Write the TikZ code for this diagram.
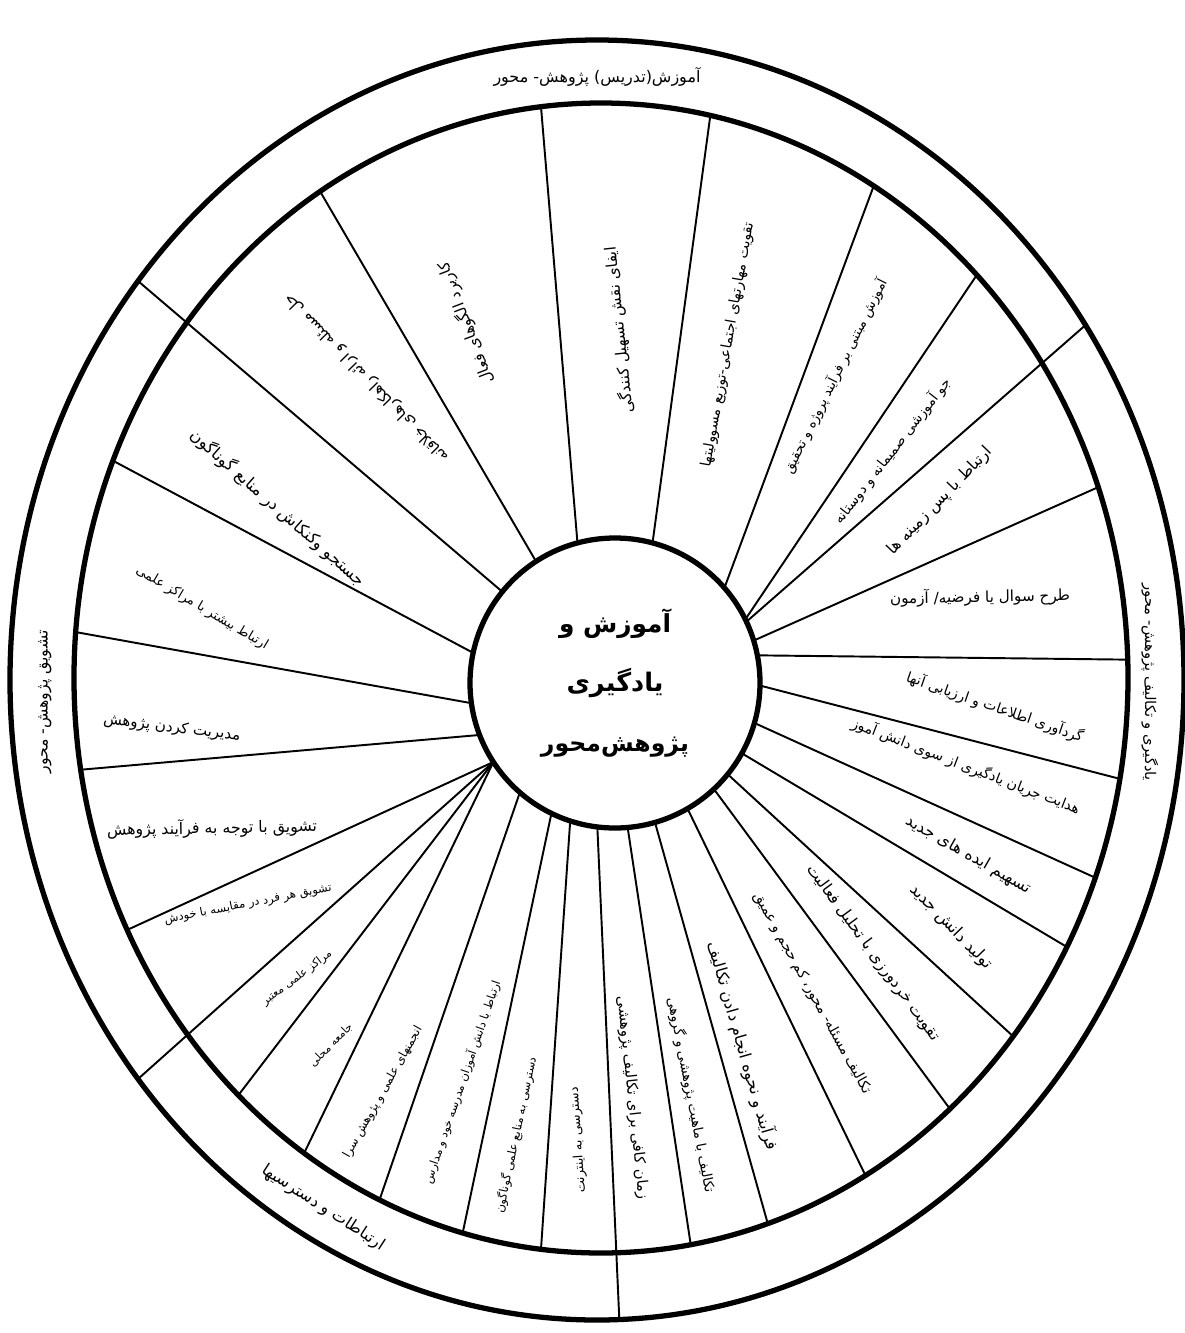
\documentclass[tikz,border=0pt]{standalone}
\usepackage{fontspec}
\usepackage{graphicx}
\usetikzlibrary{shapes.geometric}
\newfontfamily\arabicfont[Script=Arabic]{DejaVu Sans}
\TeXXeTstate=1
\newlength\pxu
\setlength\pxu{0.02cm}
\newcommand\fa[2]{\resizebox{#1\pxu}{!}{\arabicfont #2}}
\newcommand\fab[2]{\resizebox{#1\pxu}{!}{\arabicfont\bfseries #2}}

\begin{document}
\begin{tikzpicture}[x=0.02cm, y=-0.02cm,
        rim/.style={draw, ellipse, line width=3pt, inner sep=0pt, outer sep=0pt},
        spoke/.style={line width=1.1pt},
        lbl/.style={inner sep=0pt}]
        \useasboundingbox (0,0) rectangle (1185,1333);

        % Outer and inner rim
        \node[rim, minimum width=1174\pxu, minimum height=1280\pxu] (outer) at (597,680) {};
        \node[rim, minimum width=1054\pxu, minimum height=1150\pxu] (inner) at (601,678) {};

        % Centre circle
        \node[draw, circle, line width=3pt, minimum size=290\pxu, inner sep=0pt, outer sep=0pt,
              align=center, font=\fontsize{12}{34}\selectfont] (core) at (615,683)
            {\fab{112}{\beginR آموزش و\endR}\\\fab{97}{\beginR یادگیری\endR}\\\fab{148}{\beginR پژوهش‌محور\endR}};

        % Spokes from circle to inner rim
        \foreach \a/\b in {123.6/120.0, 105.2/96.6, 75.2/79.3, 41.6/61.9, 26.9/47.7,
                           17.9/21.7, 11.2/2.5, -1.5/-11.3, -16.4/-22.4, -29.1/-30.7,
                           -39.4/-41.5, -47.0/-51.4, -60.8/-62.4, -74.5/-73.3, -85.3/-81.3,
                           -108.7/-96.9, -116.6/-104.6, -131.1/-113.1, -147.7/-122.3,
                           -147.7/-131.2, -147.7/-152.9, -159.4/-170.5, -172.0/175.5,
                           168.8/156.3} {
            \draw[spoke] (core.\a) -- (inner.\b);
        }

        % Boundaries between the four ring parts
        \foreach \a/\b in {141.3/139.9, 25.7/36.8, -97.9/-88.8, -147.7/-139.9} {
            \draw[spoke] (core.\a) -- (outer.\b);
        }

        % Ring labels
        \node[lbl] (ringtop) at (597,77) {\fa{207}{\beginR آموزش(تدریس) پژوهش- محور\endR}};
        \node[lbl, rotate=-90] (ringright) at (1150,682) {\fa{197}{\beginR یادگیری و تکالیف پژوهش- محور\endR}};
        \node[lbl, rotate=-33] (ringbottom) at (323,1208) {\fa{143}{\beginR ارتباطات و دسترسیها\endR}};
        \node[lbl, rotate=90] (ringleft) at (45,702) {\fa{143}{\beginR تشویق پژوهش- محور\endR}};

        % Top part
        \node[lbl, rotate=134.5] (s1) at (367,378) {\fa{228}{\beginR حل مسئله و ارائه راهکارهای خلاقانه\endR}};
        \node[lbl, rotate=111] (s2) at (466,323) {\fa{129}{\beginR کاربرد الگوهای فعال\endR}};
        \node[lbl, rotate=96] (s3) at (619,330) {\fa{167}{\beginR ایفای نقش تسهیل کنندگی\endR}};
        \node[lbl, rotate=80] (s4) at (728,345) {\fa{248}{\beginR تقویت مهارتهای اجتماعی-توزیع مسوولیتها\endR}};
        \node[lbl, rotate=63.5] (s5) at (835,376) {\fa{215}{\beginR آموزش مبتنی بر فرآیند پروژه و تحقیق\endR}};
        \node[lbl, rotate=52] (s6) at (892,451) {\fa{180}{\beginR جو آموزشی صمیمانه و دوستانه\endR}};

        % Right part
        \node[lbl, rotate=46] (s7) at (940,501) {\fa{143}{\beginR ارتباط با پس زمینه ها\endR}};
        \node[lbl, rotate=1] (s8) at (980,597) {\fa{180}{\beginR طرح سوال یا فرضیه/ آزمون\endR}};
        \node[lbl, rotate=-19] (s9) at (995,707) {\fa{186}{\beginR گردآوری اطلاعات و ارزیابی آنها\endR}};
        \node[lbl, rotate=-21] (s10) at (966,766) {\fa{243}{\beginR هدایت جریان یادگیری از سوی دانش آموز\endR}};
        \node[lbl, rotate=-29.6] (s11) at (968,855) {\fa{141}{\beginR تسهیم ایده های جدید\endR}};
        \node[lbl, rotate=-46] (s12) at (951,927) {\fa{111}{\beginR تولید دانش جدید\endR}};
        \node[lbl, rotate=-53.7] (s13) at (873,953) {\fa{214}{\beginR تقویت خردورزی با تحلیل فعالیت\endR}};
        \node[lbl, rotate=-61] (s14) at (812,993) {\fa{228}{\beginR تکالیف مسئله- محور، کم حجم و عمیق\endR}};
        \node[lbl, rotate=-74] (s15) at (743,1046) {\fa{216}{\beginR فرآیند و نحوه انجام دادن تکالیف\endR}};
        \node[lbl, rotate=-79] (s16) at (691,1095) {\fa{199}{\beginR تکالیف با ماهیت پژوهشی و گروهی\endR}};
        \node[lbl, rotate=-84] (s17) at (632,1098) {\fa{204}{\beginR زمان کافی برای تکالیف پژوهشی\endR}};

        % Bottom part
        \node[lbl, rotate=94] (s18) at (578,1140) {\fa{106}{\beginR دسترسی به اینترنت\endR}};
        \node[lbl, rotate=78] (s19) at (516,1135) {\fa{159}{\beginR دسترسی به منابع علمی گوناگون\endR}};
        \node[lbl, rotate=71] (s20) at (462,1082) {\fa{213}{\beginR ارتباط با دانش آموزان مدرسه خود و مدارس\endR}};
        \node[lbl, rotate=60.7] (s21) at (383,1092) {\fa{149}{\beginR انجمنهای علمی و پژوهش سرا\endR}};
        \node[lbl, rotate=45] (s22) at (331,1045) {\fa{56}{\beginR جامعه محلی\endR}};
        \node[lbl, rotate=37] (s23) at (297,978) {\fa{84}{\beginR مراکز علمی معتبر\endR}};

        % Left part
        \node[lbl, rotate=11] (s24) at (248,904) {\fa{170}{\beginR تشویق هر فرد در مقایسه با خودش\endR}};
        \node[lbl, rotate=1] (s25) at (212,828) {\fa{210}{\beginR تشویق با توجه به فرآیند پژوهش\endR}};
        \node[lbl, rotate=-7] (s26) at (172,728) {\fa{138}{\beginR مدیریت کردن پژوهش\endR}};
        \node[lbl, rotate=-30.6] (s27) at (202,608) {\fa{151}{\beginR ارتباط بیشتر با مراکز علمی\endR}};
        \node[lbl, rotate=-41.4] (s28) at (278,508) {\fa{227}{\beginR جستجو وکنکاش در منابع گوناگون\endR}};
    \end{tikzpicture}
\end{document}
